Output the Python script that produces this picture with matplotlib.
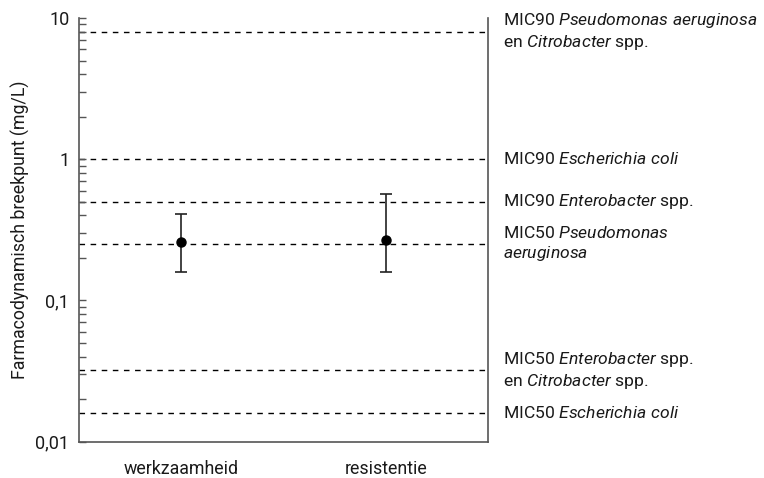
import matplotlib
matplotlib.use("Agg")
import matplotlib.pyplot as plt
from matplotlib.ticker import FuncFormatter, LogLocator, NullFormatter

plt.rcParams['font.family'] = ['Roboto', 'DejaVu Sans']
plt.rcParams['mathtext.fontset'] = 'custom'
plt.rcParams['mathtext.rm'] = 'Roboto'
plt.rcParams['mathtext.it'] = 'Roboto:italic'

categories = ["werkzaamheid", "resistentie"]
breakpoint = [0.258, 0.268]
err_low = [0.160, 0.160]
err_high = [0.411, 0.567]

mic_values = [8, 1, 0.5, 0.25, 0.032, 0.016]
mic_labels = [
    "MIC90 $\\it{Pseudomonas\\ aeruginosa}$\nen $\\it{Citrobacter}$ spp.",
    "MIC90 $\\it{Escherichia\\ coli}$",
    "MIC90 $\\it{Enterobacter}$ spp.",
    "MIC50 $\\it{Pseudomonas}$\n$\\it{aeruginosa}$",
    "MIC50 $\\it{Enterobacter}$ spp.\nen $\\it{Citrobacter}$ spp.",
    "MIC50 $\\it{Escherichia\\ coli}$",
]

txt = '#1a1a1a'
fig = plt.figure(figsize=(7.64, 4.78), dpi=100)
ax = fig.add_axes([79 / 764, 1 - 441.7 / 478, (488 - 79) / 764, (441.7 - 18) / 478])

for v, lab in zip(mic_values, mic_labels):
    ax.axhline(v, color='black', lw=1, ls=(0, (4, 4)), zorder=1)
    ax.annotate(lab, xy=(1, v), xycoords=('axes fraction', 'data'),
                xytext=(10.5, 0), textcoords='offset points',
                va='center', ha='left', fontsize=12.6, color=txt,
                linespacing=1.2, annotation_clip=False)

x = [1, 3]
yerr = [[b - l for b, l in zip(breakpoint, err_low)],
        [h - b for b, h in zip(breakpoint, err_high)]]
ax.errorbar(x, breakpoint, yerr=yerr, fmt='o', color='black', ecolor='#222222',
            elinewidth=1.2, capsize=4, capthick=1.2, markersize=6.5, zorder=3)

ax.set_yscale('log')
ax.set_ylim(0.01, 10)
ax.set_xlim(0, 4)
ax.set_xticks(x)
ax.set_xticklabels(categories, fontsize=12.8, color=txt)
ax.tick_params(axis='x', length=0, pad=13)

ax.yaxis.set_major_locator(LogLocator(base=10, numticks=10))
ax.yaxis.set_minor_locator(LogLocator(base=10, subs=range(2, 10), numticks=20))
ax.yaxis.set_minor_formatter(NullFormatter())
ax.yaxis.set_major_formatter(FuncFormatter(lambda v, p: ('%g' % v).replace('.', ',')))
ax.tick_params(axis='y', which='both', direction='in', length=5, width=1,
               color='#555555', labelsize=13, labelcolor=txt, pad=7)

ax.set_ylabel("Farmacodynamisch breekpunt (mg/L)", fontsize=12.8, color=txt, labelpad=4)

ax.spines['top'].set_visible(False)
for s in ['left', 'right', 'bottom']:
    ax.spines[s].set_color('#555555')
    ax.spines[s].set_linewidth(1.2)

fig.savefig("out.png", dpi=100)
